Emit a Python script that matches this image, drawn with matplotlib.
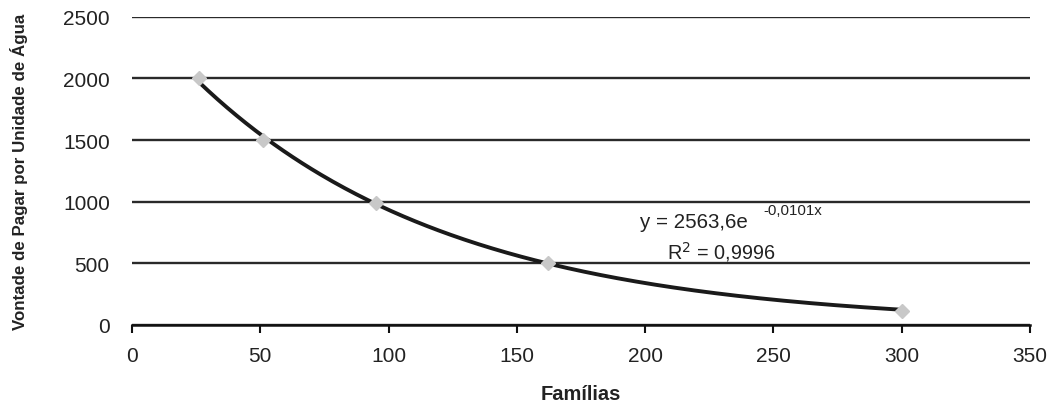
import numpy as np
import matplotlib.pyplot as plt

plt.rcParams['font.family'] = ['Liberation Sans', 'DejaVu Sans']

familias = [26, 51, 95, 162, 300]
vontade = [2000, 1500, 990, 500, 114]

# exponential trend line shown on the chart
coef_a = 2563.6
coef_b = -0.0101

fig = plt.figure(figsize=(10.48, 4.06), dpi=100)
ax = fig.add_axes([132 / 1048, 1 - 326 / 406, (1030 - 132) / 1048, (326 - 17.7) / 406])

xs = np.linspace(min(familias), max(familias), 300)
ax.plot(xs, coef_a * np.exp(coef_b * xs), color='#1a1a1a', linewidth=2.8, zorder=3)
ax.plot(familias, vontade, linestyle='none', marker='D', markersize=7,
        color='#c8c8c8', zorder=4)

ax.set_xlim(0, 350)
ax.set_ylim(0, 2500)
ax.set_xticks(np.arange(0, 351, 50))
ax.set_yticks(np.arange(0, 2501, 500))
ax.yaxis.grid(True, color='#2a2a2a', linewidth=1.7)
ax.set_axisbelow(True)

for s in ['top', 'right', 'left']:
    ax.spines[s].set_visible(False)
ax.spines['bottom'].set_linewidth(1.8)
ax.spines['bottom'].set_color('#111111')
ax.tick_params(axis='y', length=0, pad=16, labelsize=15, colors='#222222')
ax.tick_params(axis='x', length=6, width=1.5, pad=9, labelsize=15, colors='#222222')
ax.tick_params(axis='x', color='#111111')

ax.set_xlabel('Famílias', fontsize=14.5, fontweight='bold', labelpad=14, color='#222222')
ax.set_ylabel('Vontade de Pagar por Unidade de Água', fontsize=12.2,
              fontweight='bold', labelpad=25, color='#222222')

ax.annotate('y = 2563,6e', xy=(640 / 1048, 1 - 223 / 406), xycoords='figure fraction',
            fontsize=14.8, va='center', ha='left', color='#222222')
ax.annotate('-0,0101x', xy=(763 / 1048, 1 - 211 / 406), xycoords='figure fraction',
            fontsize=10.8, va='center', ha='left', color='#222222')
ax.annotate('R$^2$ = 0,9996', xy=(667 / 1048, 1 - 252 / 406), xycoords='figure fraction',
            fontsize=14.3, va='center', ha='left', color='#222222')

fig.savefig('out.png', dpi=100)
